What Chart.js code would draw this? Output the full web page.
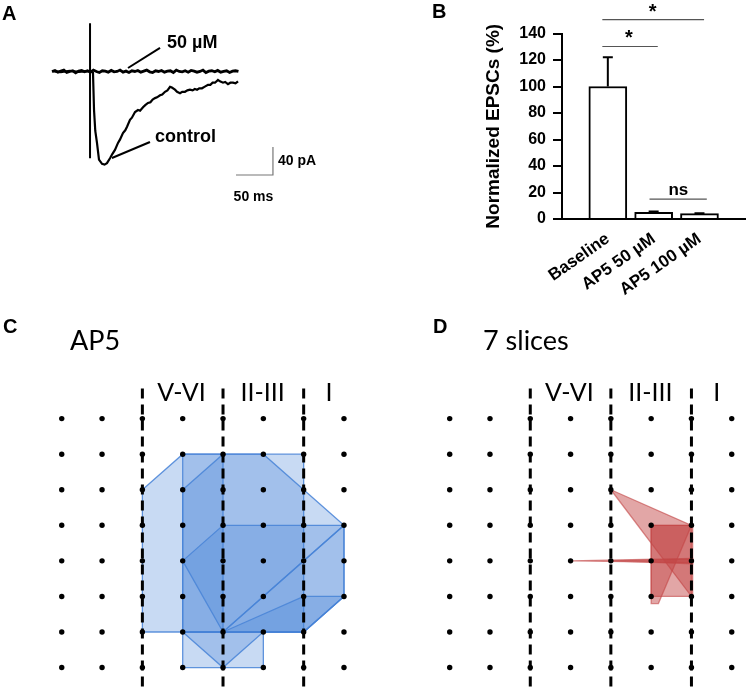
<!DOCTYPE html>
<html><head><meta charset="utf-8">
<script src="https://cdn.jsdelivr.net/npm/chart.js@4.4.1/dist/chart.umd.min.js"></script>
<style>
html,body{margin:0;padding:0;background:#fff;width:750px;height:693px;overflow:hidden;}
canvas{position:absolute;}
</style></head><body>
<canvas id="cA" width="330" height="215" style="left:0;top:0"></canvas>
<canvas id="cB" width="339" height="300" style="left:420px;top:0"></canvas>
<canvas id="cC" width="375" height="393" style="left:0;top:300px"></canvas>
<canvas id="cD" width="362" height="393" style="left:388px;top:300px"></canvas>
<script>
// ---------- Panel A: traces (time in ms, current in pA) ----------
const controlTrace = [[0,0.5],[12,-1],[24,1],[36,-0.5],[48,0.5],[53,0],[55.4,-2],[56.8,-55],[58.5,-85],[60.8,-102],[63.5,-126],[67.6,-132],[71,-133],[74.3,-131],[78.4,-124],[81.5,-118],[85.1,-112],[89.2,-102],[92,-97],[95.9,-88],[99,-84],[101.4,-79],[105.4,-69],[108,-66],[112.2,-58],[116.2,-55],[119,-56],[123,-51],[126,-48],[129.7,-45],[133,-44],[136,-40],[139.2,-38],[142,-37],[146,-34],[149,-33],[152.7,-29],[156,-27],[159.5,-22],[162,-23],[166.2,-26],[169,-29],[173,-31],[176,-29],[179.7,-29],[183,-27],[186.5,-26],[190,-27],[193,-25],[196,-26],[199,-24],[202.7,-24],[206,-22],[210.8,-19],[214,-19],[217,-16],[220.3,-16],[224.3,-12],[227,-14],[231.1,-16],[234,-15],[237.8,-18],[241,-16],[244.6,-16],[248,-17],[251.4,-14]];
const ap5SampleMs = 4;
const ap5Trace = [0,1.5,-1,0.5,2,-1.5,0,1,-2,0.5,1.5,-0.5,1,-1,2,0,-1.5,1,0.5,-1,1.5,-0.5,0,2,-1,0.5,-1.5,1,0,1.5,-1,0.5,2,-0.5,-1.5,1,0,1.5,-1,0.5,1,-1.5,2,0,-0.5,1,-1,1.5,0.5,-1,0,2,-1.5,0.5,1,-0.5,1.5,-1,0,1,-1.5,0.5,1,0];
const stimArtifact = [[51.4,69],[51.4,-124]];
const scaleBarMs = 50, scaleBarPA = 40;

// ---------- Panel B: bar chart ----------
const categories = ['Baseline','AP5 50 \u00B5M','AP5 100 \u00B5M'];
const means = [100, 5, 4];
const sems = [22, 0.6, 0.4];
const yTicks = [0,20,40,60,80,100,120,140];

// ---------- Panels C / D: stimulation grid ----------
const gridCols = [0,1,2,3,4,5,6,7];
const gridRows = [0,1,2,3,4,5,6,7];
const layerBorderCols = [2,4,6];
const layerLabels = ['V-VI','II-III','I'];
const layerLabelCols = [2.97,4.98,6.63];
const polygonsAP5 = [
  [[2,2],[3,1],[4,1],[4,6],[2,6]],
  [[3,1],[6,1],[6,6],[3,6]],
  [[3,2],[4,1],[5,1],[6,2],[7,3],[7,5],[6,6],[3,6]],
  [[3,6],[3,7],[5,7],[5,6]],
  [[3,6],[4,7],[5,6]],
  [[3,4],[4,3],[7,3],[4,6]],
  [[4,6],[7,3],[7,5],[6,6]],
  [[4,6],[6,5],[7,5],[6,6]]
];
const polygons7slices = [
  [[4,2],[6,3],[6,5]],
  [[5,3],[6,3],[5.18,5.2],[5,5.2]],
  [[5,3],[6.03,3],[6.03,5],[5,5]],
  [[3,4],[6.03,3.93],[6.03,4.05]],
  [[4,4],[6.03,3.95],[6.03,4.08]]
];

const ARIAL = '"Liberation Sans", Arial, sans-serif';
const CAL = 'Lato, "Open Sans", sans-serif';
Chart.defaults.font.family = ARIAL;
Chart.defaults.color = '#000';

const toXY = a => a.map(p => ({x:p[0], y:p[1]}));

// ---------------- Panel A -----------------
const annoA = {
  id:'annoA',
  afterDraw(chart){
    const c = chart.ctx, X = chart.scales.x, Y = chart.scales.y;
    const px = v => X.getPixelForValue(v), py = v => Y.getPixelForValue(v);
    c.save();
    c.fillStyle='#000'; c.font='bold 20px '+ARIAL; c.textBaseline='alphabetic';
    c.fillText('A', 2, 20);
    c.strokeStyle='#000'; c.lineWidth=2;
    c.beginPath(); c.moveTo(px(102.7),py(5)); c.lineTo(px(146),py(33.6)); c.stroke();
    c.beginPath(); c.moveTo(px(81),py(-123.6)); c.lineTo(px(132.4),py(-100.7)); c.stroke();
    c.font='bold 18px '+ARIAL; c.textBaseline='middle';
    c.fillText('50 \u00B5M', px(155.4), py(40.7));
    c.fillText('control', px(139.2), py(-93.6));
    const x1 = 298.6, yb = -147.9;
    c.strokeStyle='#777'; c.lineWidth=1.2;
    c.beginPath(); c.moveTo(px(x1-scaleBarMs),py(yb)); c.lineTo(px(x1),py(yb)); c.lineTo(px(x1),py(yb+scaleBarPA)); c.stroke();
    c.font='bold 14px '+ARIAL;
    c.fillText(scaleBarPA+' pA', px(x1)+5, py(yb+scaleBarPA/2));
    c.textAlign='center';
    c.fillText(scaleBarMs+' ms', px(x1-scaleBarMs/2)-1, py(yb)+22);
    c.restore();
  }
};
new Chart(document.getElementById('cA'), {
  type:'line',
  data:{datasets:[
    {data:toXY(stimArtifact), borderColor:'#000', borderWidth:2, pointRadius:0},
    {data:toXY(controlTrace), borderColor:'#000', borderWidth:2.2, pointRadius:0},
    {data:ap5Trace.map((v,i)=>({x:i*ap5SampleMs, y:v})), borderColor:'#000', borderWidth:2.8, pointRadius:0}
  ]},
  options:{responsive:false, animation:false, events:[], layout:{padding:0},
    plugins:{legend:{display:false}, tooltip:{enabled:false}},
    scales:{x:{type:'linear', display:false, min:-70.27, max:375.7},
            y:{display:false, min:-205, max:102.1}}},
  plugins:[annoA]
});

// ---------------- Panel B -----------------
const labelsB = [''].concat(categories, ['']);
const annoB = {
  id:'annoB',
  afterDatasetsDraw(chart){
    const c = chart.ctx, X = chart.scales.x, Y = chart.scales.y;
    c.save();
    c.strokeStyle='#000'; c.lineWidth=2;
    means.forEach((m,i)=>{
      const x = X.getPixelForValue(i+1);
      c.beginPath(); c.moveTo(x, Y.getPixelForValue(m)); c.lineTo(x, Y.getPixelForValue(m+sems[i]));
      c.moveTo(x-5, Y.getPixelForValue(m+sems[i])); c.lineTo(x+5, Y.getPixelForValue(m+sems[i])); c.stroke();
    });
    const sig = [[0.88,3.1,150.5,'*',1.98,159],[0.88,2.09,130.2,'*',1.46,139],[1.91,3.16,15,'ns',2.54,22]];
    sig.forEach(s=>{
      c.strokeStyle='#555'; c.lineWidth=1.2;
      c.beginPath(); c.moveTo(X.getPixelForValue(s[0]), Y.getPixelForValue(s[2])); c.lineTo(X.getPixelForValue(s[1]), Y.getPixelForValue(s[2])); c.stroke();
      c.fillStyle='#000'; c.textAlign='center'; c.textBaseline='middle';
      c.font = s[3]==='*' ? 'bold 20px '+ARIAL : 'bold 17px '+ARIAL;
      c.fillText(s[3], X.getPixelForValue(s[4]), Y.getPixelForValue(s[5]) + (s[3]==='*'?4:0));
    });
    c.font='bold 20px '+ARIAL; c.textAlign='left'; c.textBaseline='alphabetic';
    c.fillText('B', 12, 18);
    c.restore();
  }
};
new Chart(document.getElementById('cB'), {
  type:'bar',
  data:{labels:labelsB, datasets:[{data:[null].concat(means,[null]), backgroundColor:'#fff', borderColor:'#000', borderWidth:2, barThickness:38}]},
  options:{responsive:false, animation:false, events:[],
    layout:{padding:{left:58, top:33.5, right:2, bottom:0}},
    plugins:{legend:{display:false}, tooltip:{enabled:false}},
    scales:{
      x:{offset:false, grid:{display:false}, border:{display:true, color:'#000', width:2},
         ticks:{color:'#000', font:{size:17, weight:'bold'}, minRotation:35, maxRotation:35, autoSkip:false, padding:2},
         afterFit:s=>{s.height=81;}},
      y:{min:yTicks[0], max:yTicks[yTicks.length-1],
         afterBuildTicks:s=>{s.ticks = yTicks.map(v=>({value:v}));},
         ticks:{color:'#000', font:{size:16, weight:'bold'}, padding:7},
         grid:{drawOnChartArea:false, drawTicks:true, tickLength:9, color:'#000', lineWidth:2},
         border:{display:true, color:'#000', width:2},
         title:{display:true, text:'Normalized EPSCs (%)', color:'#000', font:{size:19, weight:'bold'}, padding:{top:4,bottom:0}},
         afterFit:s=>{s.width=84;}}
    }},
  plugins:[annoB]
});

// ---------------- Panels C / D -----------------
function gridChart(id, polys, fillCol, lineCol, letter, letterX, title, titleX, xmax){
  const dots = [];
  gridRows.forEach(r=>gridCols.forEach(cl=>dots.push({x:cl, y:r})));
  const ds = [{data:dots, showLine:false, pointRadius:2.7, pointBackgroundColor:'#000', pointBorderWidth:0, borderWidth:0}];
  layerBorderCols.forEach(cl=>ds.push({data:[{x:cl,y:-0.85},{x:cl,y:7.9}], borderColor:'#000', borderWidth:3, borderDash:[10,6], pointRadius:0}));
  polys.forEach(p=>{
    const pts = toXY(p.concat([p[0]]));
    ds.push({data:pts, borderColor:lineCol, borderWidth:1.3, backgroundColor:fillCol, fill:'shape', pointRadius:0, tension:0});
  });
  const anno = {
    id:'anno'+id,
    afterDraw(chart){
      const c = chart.ctx, X = chart.scales.x, Y = chart.scales.y;
      c.save(); c.fillStyle='#000';
      c.font='bold 20px '+ARIAL; c.textBaseline='alphabetic'; c.fillText(letter, letterX, 33);
      c.font='27px '+CAL; c.fillText(title, titleX, 50);
      c.font='25px '+CAL; c.textAlign='center';
      layerLabels.forEach((t,i)=>c.fillText(t, X.getPixelForValue(layerLabelCols[i]), Y.getPixelForValue(-0.5)));
      c.restore();
    }
  };
  new Chart(document.getElementById(id), {
    type:'line', data:{datasets:ds},
    options:{responsive:false, animation:false, events:[], layout:{padding:0},
      plugins:{legend:{display:false}, tooltip:{enabled:false}},
      scales:{x:{type:'linear', display:false, min:-1.432, max:xmax},
              y:{type:'linear', display:false, reverse:true, min:-3.223, max:7.603}}},
    plugins:[anno]
  });
}
gridChart('cC', polygonsAP5, 'rgba(74,134,214,0.30)', 'rgba(70,130,215,0.85)', 'C', 3, 'AP5', 70, 7.670);
gridChart('cD', polygons7slices, 'rgba(195,70,70,0.48)', 'rgba(195,70,70,0.6)', 'D', 45, '7 slices', 95, 7.354);
</script>
</body></html>
